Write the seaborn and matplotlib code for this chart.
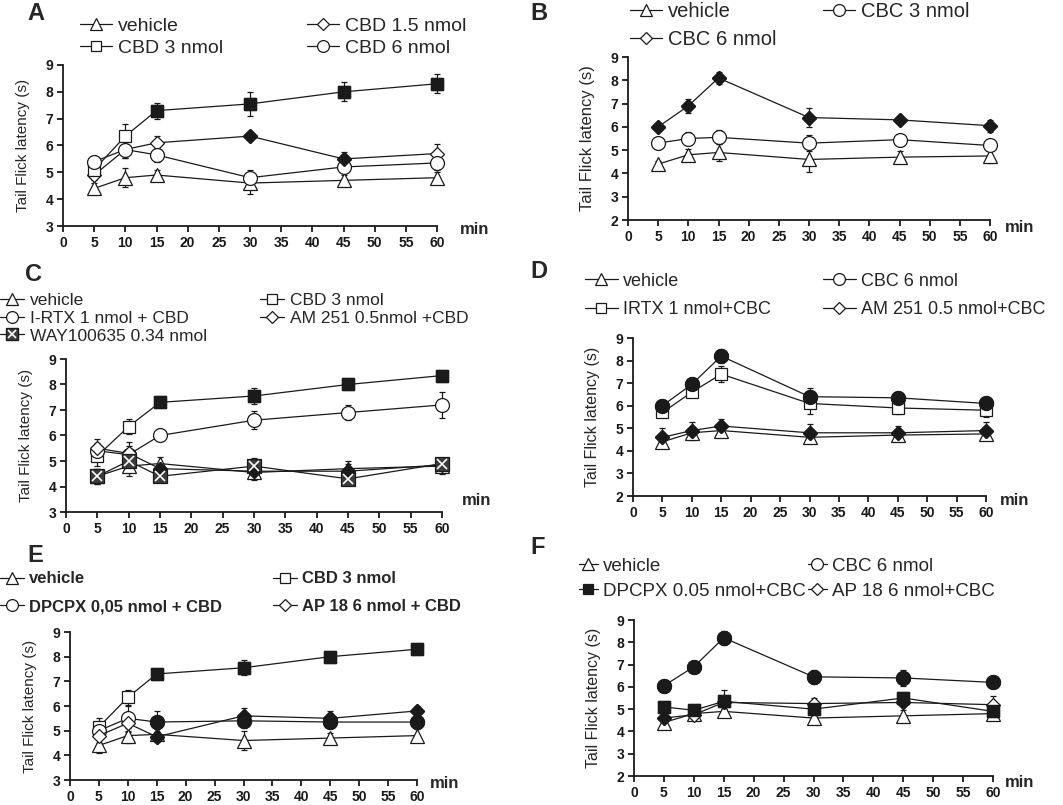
import numpy as np
import pandas as pd
import seaborn as sns
import matplotlib
matplotlib.use("Agg")
import matplotlib.pyplot as plt
from matplotlib.lines import Line2D

time_min = [5, 10, 15, 30, 45, 60]

# ---- panel A: CBD dose response
a_vehicle = [4.4, 4.8, 4.9, 4.6, 4.7, 4.8]
a_vehicle_sem = [0.2, 0.35, 0.2, 0.4, 0.2, 0.2]
a_cbd15 = [4.9, 5.85, 6.1, 6.35, 5.5, 5.7]
a_cbd15_sem = [0.2, 0.3, 0.25, 0.15, 0.25, 0.35]
a_cbd15_sig = [0, 0, 0, 1, 1, 0]
a_cbd3 = [5.1, 6.35, 7.3, 7.55, 8.0, 8.3]
a_cbd3_sem = [0.2, 0.45, 0.3, 0.45, 0.35, 0.35]
a_cbd3_sig = [0, 0, 1, 1, 1, 1]
a_cbd6 = [5.4, 5.85, 5.65, 4.8, 5.2, 5.35]
a_cbd6_sem = [0.2, 0.3, 0.25, 0.3, 0.2, 0.25]

# ---- panel B: CBC dose response
b_vehicle = [4.4, 4.8, 4.9, 4.6, 4.7, 4.75]
b_vehicle_sem = [0.15, 0.25, 0.35, 0.55, 0.25, 0.3]
b_cbc3 = [5.3, 5.5, 5.55, 5.3, 5.45, 5.2]
b_cbc3_sem = [0.15, 0.3, 0.3, 0.35, 0.15, 0.2]
b_cbc6 = [6.0, 6.9, 8.1, 6.4, 6.3, 6.05]
b_cbc6_sem = [0.15, 0.3, 0.25, 0.4, 0.15, 0.25]
b_cbc6_sig = [1, 1, 1, 1, 1, 1]

# ---- panel C: antagonists + CBD
c_vehicle = [4.4, 4.8, 4.9, 4.55, 4.7, 4.8]
c_vehicle_sem = [0.3, 0.4, 0.25, 0.3, 0.2, 0.3]
c_cbd3 = [5.2, 6.35, 7.3, 7.55, 8.0, 8.35]
c_cbd3_sem = [0.4, 0.3, 0.15, 0.3, 0.15, 0.15]
c_cbd3_sig = [0, 0, 1, 1, 1, 1]
c_irtx = [5.4, 5.25, 6.0, 6.6, 6.9, 7.2]
c_irtx_sem = [0.3, 0.5, 0.15, 0.35, 0.3, 0.5]
c_am251 = [5.5, 5.3, 4.7, 4.6, 4.6, 4.85]
c_am251_sem = [0.35, 0.3, 0.2, 0.2, 0.4, 0.25]
c_am251_sig = [0, 0, 1, 1, 1, 0]
c_way = [4.4, 5.0, 4.4, 4.8, 4.3, 4.9]
c_way_sem = [0.3, 0.3, 0.2, 0.3, 0.2, 0.2]

# ---- panel D: antagonists + CBC
d_vehicle = [4.4, 4.8, 4.9, 4.6, 4.7, 4.75]
d_vehicle_sem = [0.15, 0.2, 0.3, 0.2, 0.2, 0.2]
d_cbc6 = [6.0, 6.95, 8.2, 6.4, 6.35, 6.1]
d_cbc6_sem = [0.15, 0.15, 0.3, 0.4, 0.15, 0.15]
d_cbc6_sig = [1, 1, 1, 1, 1, 1]
d_irtx = [5.7, 6.6, 7.4, 6.1, 5.9, 5.8]
d_irtx_sem = [0.15, 0.2, 0.35, 0.45, 0.25, 0.3]
d_am251 = [4.6, 4.9, 5.1, 4.8, 4.8, 4.9]
d_am251_sem = [0.4, 0.4, 0.3, 0.4, 0.3, 0.4]
d_am251_sig = [1, 1, 1, 1, 1, 1]

# ---- panel E: DPCPX / AP18 + CBD
e_vehicle = [4.4, 4.8, 4.85, 4.6, 4.7, 4.8]
e_vehicle_sem = [0.3, 0.3, 0.2, 0.4, 0.2, 0.25]
e_cbd3 = [5.15, 6.35, 7.3, 7.55, 8.0, 8.3]
e_cbd3_sem = [0.35, 0.3, 0.15, 0.3, 0.15, 0.15]
e_cbd3_sig = [0, 0, 1, 1, 1, 1]
e_dpcpx = [5.0, 5.5, 5.35, 5.4, 5.35, 5.35]
e_dpcpx_sem = [0.35, 0.5, 0.45, 0.3, 0.25, 0.25]
e_dpcpx_sig = [0, 0, 1, 1, 1, 1]
e_ap18 = [4.8, 5.3, 4.75, 5.6, 5.5, 5.8]
e_ap18_sem = [0.3, 0.35, 0.2, 0.3, 0.3, 0.2]
e_ap18_sig = [0, 0, 1, 1, 1, 1]

# ---- panel F: DPCPX / AP18 + CBC
f_vehicle = [4.4, 4.8, 4.9, 4.6, 4.7, 4.8]
f_vehicle_sem = [0.15, 0.3, 0.2, 0.2, 0.25, 0.2]
f_cbc6 = [6.05, 6.9, 8.2, 6.45, 6.4, 6.2]
f_cbc6_sem = [0.25, 0.15, 0.3, 0.3, 0.35, 0.2]
f_cbc6_sig = [1, 1, 1, 1, 1, 1]
f_dpcpx = [5.1, 4.95, 5.35, 5.0, 5.5, 4.9]
f_dpcpx_sem = [0.15, 0.15, 0.5, 0.3, 0.15, 0.2]
f_dpcpx_sig = [1, 1, 1, 1, 1, 1]
f_ap18 = [4.6, 4.75, 5.3, 5.25, 5.3, 5.2]
f_ap18_sem = [0.15, 0.2, 0.3, 0.25, 0.15, 0.4]
f_ap18_sig = [1, 0, 1, 0, 1, 0]

none6 = [0] * 6

# (label, marker, values, sem, significant)
panels = [
    dict(tag="A", ylim=(3, 9),
         series=[("vehicle", "^", a_vehicle, a_vehicle_sem, none6),
                 ("CBD 1.5 nmol", "D", a_cbd15, a_cbd15_sem, a_cbd15_sig),
                 ("CBD 3 nmol", "s", a_cbd3, a_cbd3_sem, a_cbd3_sig),
                 ("CBD 6 nmol", "o", a_cbd6, a_cbd6_sem, none6)]),
    dict(tag="B", ylim=(2, 9),
         series=[("vehicle", "^", b_vehicle, b_vehicle_sem, none6),
                 ("CBC 3 nmol", "o", b_cbc3, b_cbc3_sem, none6),
                 ("CBC 6 nmol", "D", b_cbc6, b_cbc6_sem, b_cbc6_sig)]),
    dict(tag="C", ylim=(3, 9),
         series=[("vehicle", "^", c_vehicle, c_vehicle_sem, none6),
                 ("CBD 3 nmol", "s", c_cbd3, c_cbd3_sem, c_cbd3_sig),
                 ("I-RTX 1 nmol + CBD", "o", c_irtx, c_irtx_sem, none6),
                 ("AM 251 0.5nmol +CBD", "D", c_am251, c_am251_sem, c_am251_sig),
                 ("WAY100635 0.34 nmol", "way", c_way, c_way_sem, none6)]),
    dict(tag="D", ylim=(2, 9),
         series=[("vehicle", "^", d_vehicle, d_vehicle_sem, none6),
                 ("CBC 6 nmol", "o", d_cbc6, d_cbc6_sem, d_cbc6_sig),
                 ("IRTX 1 nmol+CBC", "s", d_irtx, d_irtx_sem, none6),
                 ("AM 251 0.5 nmol+CBC", "D", d_am251, d_am251_sem, d_am251_sig)]),
    dict(tag="E", ylim=(3, 9),
         series=[("vehicle", "^", e_vehicle, e_vehicle_sem, none6),
                 ("CBD 3 nmol", "s", e_cbd3, e_cbd3_sem, e_cbd3_sig),
                 ("DPCPX 0,05 nmol + CBD", "o", e_dpcpx, e_dpcpx_sem, e_dpcpx_sig),
                 ("AP 18 6 nmol + CBD", "D", e_ap18, e_ap18_sem, e_ap18_sig)]),
    dict(tag="F", ylim=(2, 9),
         series=[("vehicle", "^", f_vehicle, f_vehicle_sem, none6),
                 ("CBC 6 nmol", "o", f_cbc6, f_cbc6_sem, f_cbc6_sig),
                 ("DPCPX 0.05 nmol+CBC", "s", f_dpcpx, f_dpcpx_sem, f_dpcpx_sig),
                 ("AP 18 6 nmol+CBC", "D", f_ap18, f_ap18_sem, f_ap18_sig)]),
]

# layout in pixels: axes box (left, top, right, bottom), letter pos, min offset,
# legend columns [(series idx, x, first row centre y)], row pitch, font etc.
W, H = 1063, 805
layout = {
    "A": dict(box=(63, 65, 437, 226), letter=(27, 13), mn=(23, -3), ylab=11,
              cols=[([0, 2], 80, 25), ([1, 3], 307, 25)], fs=14, pitch=22, hl=1.65, fw="normal"),
    "B": dict(box=(628, 57, 990, 220), letter=(530, 14), mn=(15, -7), ylab=12,
              cols=[([0, 2], 630, 10), ([1], 823, 10)], fs=14.5, pitch=27, hl=1.6, fw="normal"),
    "C": dict(box=(66, 359, 442, 512), letter=(25, 274), mn=(20, 12), ylab=11,
              cols=[([0, 2, 4], 0, 300), ([1, 3], 260, 300)], fs=12.5, pitch=18.3, hl=1.4, fw="normal"),
    "D": dict(box=(633, 338, 986, 496), letter=(530, 272), mn=(14, -4), ylab=11.5,
              cols=[([0, 2], 585, 280), ([1, 3], 823, 280)], fs=13, pitch=28, hl=1.8, fw="normal"),
    "E": dict(box=(70, 632, 417, 780), letter=(27, 555), mn=(13, -3), ylab=11,
              cols=[([0, 2], 0, 578), ([1, 3], 273, 578)], fs=12, pitch=28, hl=1.45, fw="bold"),
    "F": dict(box=(634, 620, 993, 776), letter=(530, 547), mn=(12, -6), ylab=11.5,
              cols=[([0, 2], 579, 565), ([1, 3], 808, 565)], fs=13.5, pitch=25, hl=1.0, fw="normal"),
}

sns.set_theme(style="ticks")
plt.rcParams["font.family"] = ["Liberation Sans", "DejaVu Sans"]

msize = {"^": 10, "o": 10, "s": 9, "D": 7, "way": 9.5}


def handle_for(marker, filled):
    if marker == "way":
        sq = Line2D([], [], color="k", lw=0.9, marker="s", ms=msize["way"], mfc="#3c3c3c", mec="k")
        xx = Line2D([], [], ls="none", marker="x", ms=msize["way"] * 0.7, mec="white", mew=1.2)
        return (sq, xx)
    return Line2D([], [], color="k", lw=0.9, marker=marker, ms=msize[marker],
                  mfc="k" if filled else "white", mec="k", mew=0.9)


fig = plt.figure(figsize=(W / 100, H / 100), dpi=100)

for p in panels:
    lay = layout[p["tag"]]
    l, t, r, b = lay["box"]
    ax = fig.add_axes([l / W, 1 - b / H, (r - l) / W, (b - t) / H])

    for label, marker, y, sem, sig in p["series"]:
        df = pd.DataFrame({"time": time_min, "latency": y, "sem": sem, "sig": sig})
        ax.errorbar(df["time"], df["latency"], yerr=df["sem"], fmt="none", ecolor="k",
                    elinewidth=0.9, capsize=2.5, capthick=0.9, zorder=2)
        if marker == "way":
            sns.lineplot(data=df, x="time", y="latency", ax=ax, color="k", lw=0.9, marker="s",
                         markersize=msize["way"], markerfacecolor="#3c3c3c", markeredgecolor="k",
                         markeredgewidth=0.9, zorder=3)
            ax.plot(df["time"], df["latency"], ls="none", marker="x", ms=msize["way"] * 0.7,
                    mec="white", mew=1.2, zorder=4)
            continue
        sns.lineplot(data=df, x="time", y="latency", ax=ax, color="k", lw=0.9, marker=marker,
                     markersize=msize[marker], markerfacecolor="white", markeredgecolor="k",
                     markeredgewidth=0.9, zorder=3)
        sig_df = df[df["sig"] == 1]
        if len(sig_df):
            ax.plot(sig_df["time"], sig_df["latency"], ls="none", marker=marker,
                    ms=msize[marker], mfc="k", mec="k", zorder=4)

    for art in ax.lines + list(ax.collections):
        art.set_clip_on(False)

    ax.set_xlim(0, 60)
    ax.set_ylim(*p["ylim"])
    ax.set_xticks(range(0, 61, 5))
    ax.set_yticks(range(p["ylim"][0], p["ylim"][1] + 1))
    ax.set_xlabel("")
    ax.set_ylabel("Tail Flick latency (s)", fontsize=lay["ylab"], labelpad=11)
    sns.despine(ax=ax)
    for s in ("left", "bottom"):
        ax.spines[s].set_linewidth(1.3)
        ax.spines[s].set_color("k")
    ax.tick_params(direction="out", length=4, width=1.3, labelsize=10, pad=3, colors="k")
    for lab in ax.get_xticklabels() + ax.get_yticklabels():
        lab.set_fontweight("bold")
    ax.annotate("min", xy=(1, 0), xycoords="axes fraction", xytext=lay["mn"],
                textcoords="offset pixels", ha="left", va="center", fontsize=12,
                fontweight="bold")

    fig.text(lay["letter"][0] / W, 1 - lay["letter"][1] / H, p["tag"], fontsize=17,
             fontweight="bold", ha="left", va="center")

    fs_px = lay["fs"] * 100 / 72
    spacing = lay["pitch"] / fs_px - 0.91
    for idx, x, y0 in lay["cols"]:
        hs = [handle_for(p["series"][i][1], p["tag"] == "F" and i == 2) for i in idx]
        ls = [p["series"][i][0] for i in idx]
        fig.legend(hs, ls, loc="upper left", bbox_to_anchor=(x / W, 1 - (y0 - 0.4 * fs_px) / H),
                   frameon=False, borderpad=0, borderaxespad=0, handlelength=lay["hl"],
                   handletextpad=0.3, labelspacing=spacing, markerscale=0.85,
                   prop={"size": lay["fs"], "weight": lay["fw"]})

fig.savefig("out.png", dpi=100)
